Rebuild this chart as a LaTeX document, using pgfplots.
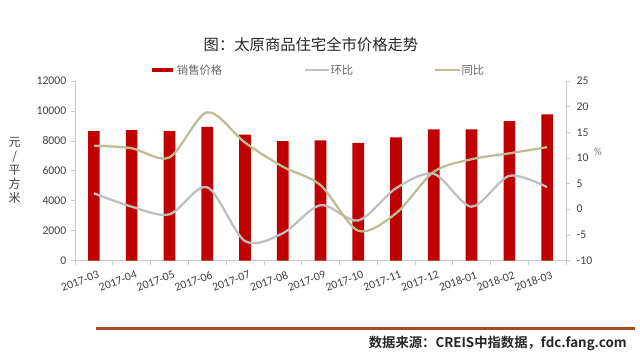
\documentclass[border=0pt]{standalone}
\usepackage{fontspec}
\usepackage{pgfplots}
\pgfplotsset{compat=1.18}
\setmainfont{Carlito}
\newfontfamily\cjk{Noto Sans CJK SC}
\newfontfamily\cjkbold{Noto Sans CJK SC Bold}
\definecolor{barred}{HTML}{C00000}
\definecolor{hbgray}{HTML}{BFBFBF}
\definecolor{tbtan}{HTML}{BFBC95}
\definecolor{axgray}{HTML}{C8C8C8}
\definecolor{txt}{HTML}{404040}
\definecolor{brownline}{HTML}{A84B20}

\pgfplotstableread{
x price hb tb
0 8650 3.1 12.4
1 8715 0.5 11.9
2 8650 -1.0 10.1
3 8940 4.3 18.9
4 8425 -6.2 13.0
5 7980 -4.7 8.3
6 8040 0.8 4.7
7 7865 -2.2 -4.2
8 8225 4.1 -0.8
9 8760 6.9 7.3
10 8760 0.5 9.75
11 9320 6.5 10.9
12 9770 4.3 12.1
}\datatable

\begin{document}
\begin{tikzpicture}
\path[use as bounding box] (0,0) rectangle (480pt,266.25pt);
\begin{axis}[
  at={(56.25pt,70.875pt)}, anchor=south west,
  scale only axis, width=368.25pt, height=134.6pt,
  xmin=-0.5, xmax=12.5, ymin=0, ymax=12000,
  ytick={0,2000,...,12000},
  axis x line*=bottom, axis y line*=left,
  axis line style={axgray, line width=0.6pt},
  xtick={0,...,12},
  xticklabels={2017-03,2017-04,2017-05,2017-06,2017-07,2017-08,2017-09,2017-10,2017-11,2017-12,2018-01,2018-02,2018-03},
  major x tick style={draw=none},
  minor xtick={-0.5,0.5,...,12.5},
  minor tick length=3pt,
  major tick length=3pt,
  tick align=outside,
  tick style={axgray, line width=0.5pt},
  every tick label/.append style={font=\fontsize{8.8}{10}\selectfont, text=txt},
  xticklabel style={rotate=20, anchor=north east, inner sep=1pt, yshift=-4pt, xshift=2pt},
  yticklabel style={/pgf/number format/.cd, fixed, 1000 sep={}, assume math mode=true},
  scaled y ticks=false,
  ybar, bar width=8.75pt,
  clip=false,
]
\addplot[fill=barred, draw=none] table[x=x, y=price] {\datatable};
\end{axis}
\begin{axis}[
  at={(56.25pt,70.875pt)}, anchor=south west,
  scale only axis, width=368.25pt, height=134.6pt,
  xmin=-0.5, xmax=12.5, ymin=-10, ymax=25,
  ytick={-10,-5,...,25},
  axis y line*=right, axis x line=none,
  axis line style={axgray, line width=0.6pt},
  major tick length=3pt,
  tick align=outside,
  tick style={axgray, line width=0.5pt},
  every tick label/.append style={font=\fontsize{8.8}{10}\selectfont, text=txt},
  yticklabel style={/pgf/number format/assume math mode=true, xshift=1.5pt},
  clip=false,
]
\addplot[hbgray, line width=1.7pt, smooth, no markers] table[x=x, y=hb] {\datatable};
\addplot[tbtan, line width=1.7pt, smooth, no markers] table[x=x, y=tb] {\datatable};
\end{axis}
% title
\node[font=\cjk\fontsize{11.5}{13}\selectfont, text=black!85] at (233.25pt,232.5pt) {图：太原商品住宅全市价格走势};
% legend
\fill[barred] (114pt,211.9pt) rectangle (129.75pt,215.6pt);
\node[anchor=west, font=\cjk\fontsize{8.5}{10}\selectfont, text=black!60, inner sep=1pt] at (131.5pt,213.75pt) {销售价格};
\draw[hbgray, line width=1.7pt] (228.75pt,213.75pt) -- (246.75pt,213.75pt);
\node[anchor=west, font=\cjk\fontsize{8.5}{10}\selectfont, text=black!60, inner sep=1pt] at (246.75pt,213.75pt) {环比};
\draw[tbtan, line width=1.7pt] (326.25pt,213.75pt) -- (345pt,213.75pt);
\node[anchor=west, font=\cjk\fontsize{8.5}{10}\selectfont, text=black!60, inner sep=1pt] at (345pt,213.75pt) {同比};
% axis titles
\node[font=\cjk\fontsize{9}{10.5}\selectfont, text=txt, align=center] at (11pt,138.75pt) {元\\/\\平\\方\\米};
\node[font=\fontsize{8}{9}\selectfont, text=black!55] at (448.5pt,152.25pt) {\%};
% bottom source line
\draw[brownline, line width=2.25pt] (72pt,20.25pt) -- (476.25pt,20.25pt);
\node[anchor=east, font=\cjkbold\fontsize{10}{12}\selectfont, text=black!85, inner sep=0pt] at (470.25pt,9pt) {数据来源：CREIS中指数据，fdc.fang.com};
\end{tikzpicture}
\end{document}
